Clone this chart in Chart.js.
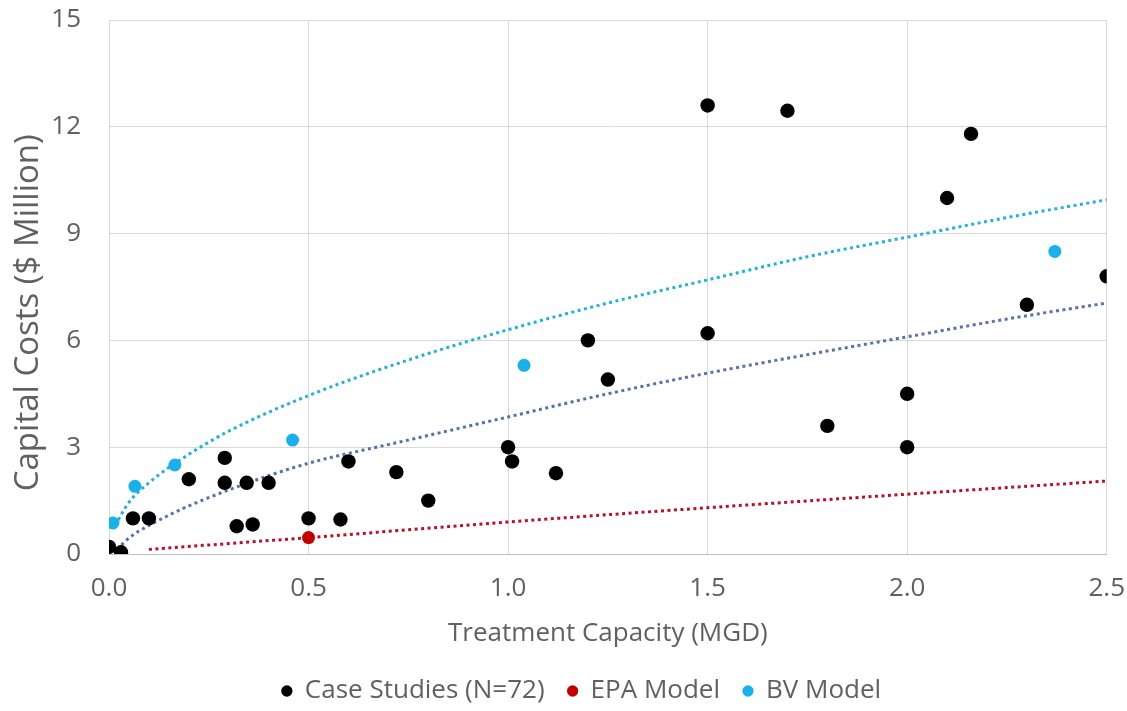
<!DOCTYPE html>
<html>
<head>
<meta charset="utf-8">
<script src="https://cdn.jsdelivr.net/npm/chart.js@4/dist/chart.umd.min.js"></script>
<style>
html,body{margin:0;padding:0;background:#ffffff;}
#wrap{width:1127px;height:711px;position:relative;}
</style>
</head>
<body>
<div id="wrap"><canvas id="c" width="1127" height="711"></canvas></div>
<script>
// ---- data ----
const caseX = [0.00, 0.03, 0.06, 0.10, 0.20, 0.29, 0.29, 0.32, 0.345, 0.36, 0.40, 0.50, 0.58, 0.60, 0.72, 0.80, 1.00, 1.01, 1.12, 1.20, 1.25, 1.50, 1.50, 1.70, 1.80, 2.00, 2.00, 2.10, 2.16, 2.30, 2.50];
const caseY = [0.20, 0.05, 1.00, 1.00, 2.10, 2.70, 2.00, 0.78, 2.00, 0.83, 2.00, 1.00, 0.97, 2.60, 2.30, 1.50, 3.00, 2.60, 2.27, 6.00, 4.90, 12.60, 6.20, 12.45, 3.60, 4.50, 3.00, 10.00, 11.80, 7.00, 7.80];

const epaX = [0.50];
const epaY = [0.46];

const bvX = [0.01, 0.065, 0.165, 0.46, 1.04, 2.37];
const bvY = [0.87, 1.90, 2.50, 3.20, 5.30, 8.50];

// dotted trend lines
const caseTrendX = [0.02, 0.05, 0.10, 0.20, 0.30, 0.40, 0.50, 0.75, 1.00, 1.25, 1.50, 1.75, 2.00, 2.25, 2.50];
const caseTrendY = [0.12, 0.45, 0.80, 1.35, 1.80, 2.20, 2.55, 3.20, 3.85, 4.50, 5.08, 5.60, 6.10, 6.60, 7.05];

const epaTrendX = [0.10, 0.50, 1.00, 1.50, 2.00, 2.50];
const epaTrendY = [0.13, 0.46, 0.90, 1.30, 1.68, 2.05];

const bvTrendX = [0.015, 0.05, 0.10, 0.20, 0.30, 0.50, 0.75, 1.00, 1.25, 1.50, 1.75, 2.00, 2.25, 2.50];
const bvTrendY = [0.80, 1.45, 2.00, 2.80, 3.45, 4.45, 5.45, 6.30, 7.05, 7.70, 8.35, 8.90, 9.45, 9.95];

const seriesNames = ['Case Studies (N=72)', 'EPA Model', 'BV Model'];
const xTickLabels = ['0.0', '0.5', '1.0', '1.5', '2.0', '2.5'];
const yTickLabels = ['0', '3', '6', '9', '12', '15'];
const xTitle = 'Treatment Capacity (MGD)';
const yTitle = 'Capital Costs ($ Million)';

// ---- build ----
const pts = (xs, ys) => xs.map((x, i) => ({x: x, y: ys[i]}));
const FONT = '"Open Sans", "DejaVu Sans", sans-serif';
const TXT = '#606060';

const legendShift = {
  id: 'legendShift',
  afterLayout(chart) {
    const lg = chart.legend;
    if (lg) { lg.left += 28; lg.right += 28; }
  }
};

new Chart(document.getElementById('c'), {
  type: 'scatter',
  data: {
    datasets: [
      {label: seriesNames[0], data: pts(caseX, caseY), backgroundColor: '#000000', borderColor: '#000000', borderWidth: 0, pointRadius: 7.2, pointHoverRadius: 7.2, pointStyle: 'circle'},
      {label: seriesNames[1], data: pts(epaX, epaY), backgroundColor: '#c00000', borderColor: '#c00000', borderWidth: 0, pointRadius: 6.5, pointHoverRadius: 6.5, pointStyle: 'circle'},
      {label: seriesNames[2], data: pts(bvX, bvY), backgroundColor: '#1cb0ea', borderColor: '#1cb0ea', borderWidth: 0, pointRadius: 6.5, pointHoverRadius: 6.5, pointStyle: 'circle'},
      {label: 'caseTrend', data: pts(caseTrendX, caseTrendY), showLine: true, pointRadius: 0, borderColor: '#5a70a8', borderWidth: 3, borderDash: [3, 3.5], cubicInterpolationMode: 'monotone', fill: false},
      {label: 'epaTrend', data: pts(epaTrendX, epaTrendY), showLine: true, pointRadius: 0, borderColor: '#b5122a', borderWidth: 3, borderDash: [3, 3.5], cubicInterpolationMode: 'monotone', fill: false},
      {label: 'bvTrend', data: pts(bvTrendX, bvTrendY), showLine: true, pointRadius: 0, borderColor: '#22b2d6', borderWidth: 3, borderDash: [3, 3.5], cubicInterpolationMode: 'monotone', fill: false}
    ]
  },
  options: {
    responsive: false,
    animation: false,
    devicePixelRatio: 1,
    layout: {padding: {top: 20, right: 20, bottom: 0, left: 0}},
    plugins: {
      tooltip: {enabled: false},
      legend: {
        position: 'bottom',
        maxHeight: 56,
        labels: {
          usePointStyle: true,
          boxWidth: 10,
          boxHeight: 8,
          padding: 23,
          color: TXT,
          font: {family: FONT, size: 26},
          filter: (item) => item.datasetIndex < 3
        }
      }
    },
    scales: {
      x: {
        type: 'linear',
        min: 0, max: 2.5,
        afterFit: (s) => { s.height = 101; },
        grid: {color: '#d9d9d9', lineWidth: 1, drawTicks: true, tickLength: 17, tickColor: 'rgba(0,0,0,0)'},
        border: {color: '#bfbfbf', width: 1},
        ticks: {stepSize: 0.5, padding: 2, color: TXT, font: {family: FONT, size: 26},
          callback: (v) => xTickLabels[Math.round(v / 0.5)]},
        title: {display: true, text: xTitle, color: TXT, font: {family: FONT, size: 26}, padding: {top: 0, bottom: 6}}
      },
      y: {
        type: 'linear',
        min: 0, max: 15,
        afterFit: (s) => { s.width = 109; },
        grid: {color: '#d9d9d9', lineWidth: 1, drawTicks: true, tickLength: 24, tickColor: 'rgba(0,0,0,0)'},
        border: {color: '#d9d9d9', width: 1},
        ticks: {stepSize: 3, padding: 4, color: TXT, font: {family: FONT, size: 26},
          callback: (v) => yTickLabels[Math.round(v / 3)]},
        title: {display: true, text: yTitle + '      ', color: TXT, font: {family: FONT, size: 33}, padding: {top: 9, bottom: 0}}
      }
    }
  },
  plugins: [legendShift]
});
</script>
</body>
</html>
